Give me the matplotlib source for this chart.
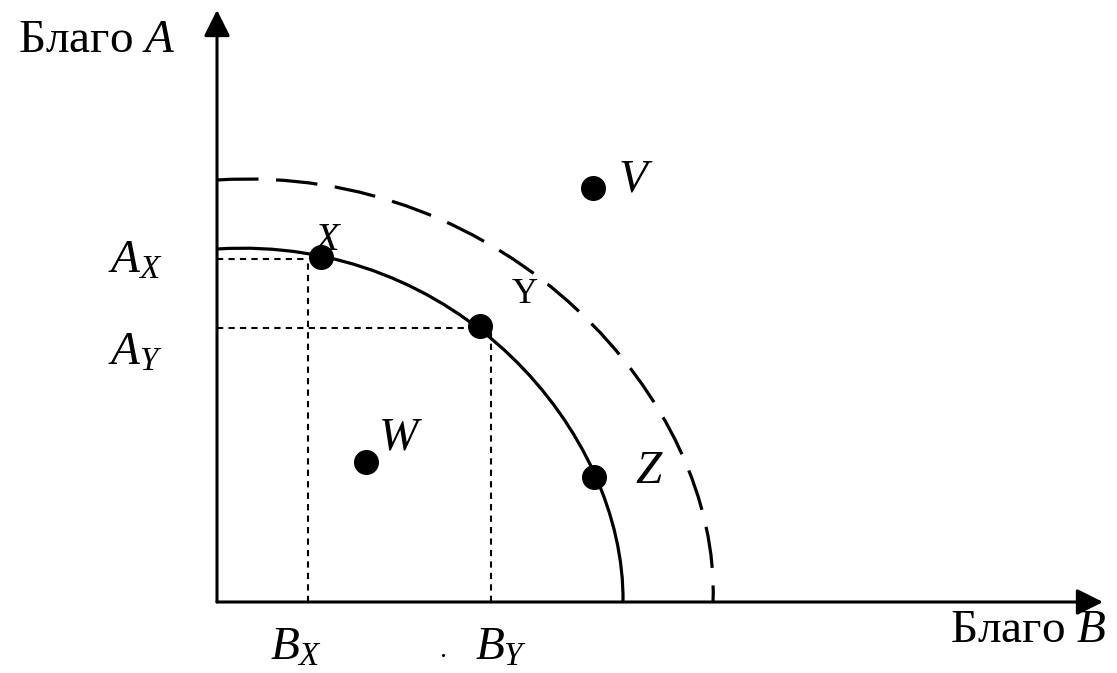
import matplotlib
matplotlib.use('Agg')
import matplotlib.pyplot as plt
from matplotlib.path import Path
from matplotlib.patches import PathPatch

plt.rcParams['font.family'] = ['Liberation Serif', 'DejaVu Serif']
plt.rcParams['mathtext.fontset'] = 'custom'
plt.rcParams['mathtext.rm'] = 'Liberation Serif'
plt.rcParams['mathtext.it'] = 'Liberation Serif:italic'

# точки (благо B, благо A)
point_names = ['X', 'Y', 'Z', 'W', 'V']
point_b = [104, 263, 377, 149, 376]
point_a = [345, 276, 125, 140, 414]

# уровни для пунктирных линий
guide_b = [91, 274]      # B_X, B_Y
guide_a = [343, 274]     # A_X, A_Y

# КПВ: опорные точки кривой Безье
ppf_b = [0, 240, 408, 406]
ppf_a = [353, 368, 170, 0]
ppf2_b = [0, 290, 504, 496]
ppf2_a = [422, 440, 200, 0]

fig = plt.figure(figsize=(11.17, 6.73), dpi=100)
ax = fig.add_axes([0, 0, 1, 1])
ax.set_xlim(-217, 900)
ax.set_ylim(-71, 602)
ax.axis('off')

# оси
arr = dict(arrowstyle='-|>,head_length=0.8,head_width=0.4', lw=2.2,
           color='black', mutation_scale=20, shrinkA=0, shrinkB=0)
ax.annotate('', xy=(0, 592), xytext=(0, 0), arrowprops=arr)
ax.annotate('', xy=(886, 0), xytext=(0, 0), arrowprops=arr)

# кривые
codes = [Path.MOVETO, Path.CURVE4, Path.CURVE4, Path.CURVE4]
ax.add_patch(PathPatch(Path(list(zip(ppf_b, ppf_a)), codes), fill=False,
                       lw=2.3, color='black', capstyle='butt'))
ax.add_patch(PathPatch(Path(list(zip(ppf2_b, ppf2_a)), codes), fill=False,
                       lw=2.3, color='black', linestyle=(0, (13, 5.5)),
                       capstyle='butt'))

# пунктир
for b, a in zip(guide_b, guide_a):
    ax.plot([0, b], [a, a], color='black', lw=1.5, linestyle=(0, (3, 2.5)))
    ax.plot([b, b], [0, a], color='black', lw=1.5, linestyle=(0, (3, 2.5)))

# подпись X под точкой
ax.text(96, 352, '$X$', fontsize=29, ha='left', va='baseline', zorder=2)

ax.plot(point_b, point_a, 'o', color='black', markersize=17, zorder=3)

ax.text(295, 299, 'Y', fontsize=26, ha='left', va='baseline')
ax.text(418, 119, '$Z$', fontsize=34, ha='left', va='baseline')
ax.text(161, 152, '$W$', fontsize=34, ha='left', va='baseline')
ax.text(401, 410, '$V$', fontsize=34, ha='left', va='baseline')

ax.text(-199, 550, 'Благо $A$', fontsize=34, ha='left', va='baseline')
ax.text(733, -40, 'Благо $B$', fontsize=34, ha='left', va='baseline')
ax.text(-109, 329, '$A_X$', fontsize=34, ha='left', va='baseline')
ax.text(-109, 237, '$A_Y$', fontsize=34, ha='left', va='baseline')
ax.text(53, -58, '$B_X$', fontsize=34, ha='left', va='baseline')
ax.text(258, -58, '$B_Y$', fontsize=34, ha='left', va='baseline')
ax.text(226, -55, '.', fontsize=20, ha='center', va='baseline')

fig.savefig('out.png', dpi=100)
